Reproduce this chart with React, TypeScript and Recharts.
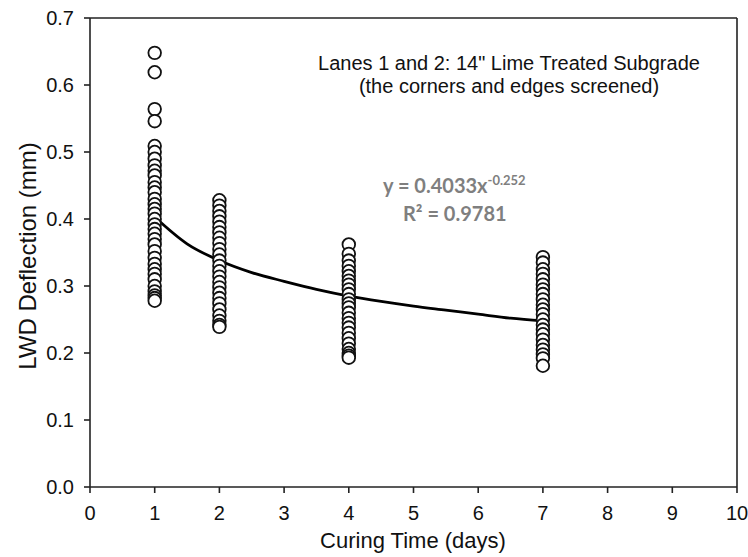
import React from 'react';
import { ComposedChart, Scatter, Line, XAxis, YAxis, ReferenceLine } from 'recharts';

// LWD deflection readings (mm) by curing time (days)
const day1 = [
  0.648, 0.619, 0.564, 0.546, 0.509, 0.500, 0.490, 0.480, 0.472, 0.465,
  0.455, 0.447, 0.440, 0.430, 0.422, 0.415, 0.408, 0.400, 0.392, 0.385,
  0.378, 0.370, 0.362, 0.352, 0.342, 0.333, 0.325, 0.318, 0.310, 0.300,
  0.292, 0.286, 0.282, 0.278,
];
const day2 = [
  0.428, 0.420, 0.412, 0.404, 0.396, 0.388, 0.380, 0.372, 0.364, 0.355,
  0.347, 0.338, 0.330, 0.322, 0.314, 0.306, 0.298, 0.290, 0.282, 0.274,
  0.265, 0.256, 0.248, 0.242, 0.239,
];
const day4 = [
  0.362, 0.348, 0.338, 0.330, 0.322, 0.315, 0.308, 0.302, 0.295, 0.288,
  0.280, 0.274, 0.268, 0.260, 0.252, 0.245, 0.238, 0.230, 0.222, 0.214,
  0.206, 0.200, 0.196, 0.193,
];
const day7 = [
  0.343, 0.335, 0.325, 0.318, 0.310, 0.302, 0.295, 0.288, 0.280, 0.272,
  0.265, 0.258, 0.250, 0.242, 0.235, 0.228, 0.220, 0.212, 0.205, 0.198,
  0.192, 0.181,
];

// power trend line
const trendX = [1, 1.5, 2, 2.5, 3, 3.5, 4, 4.5, 5, 5.5, 6, 6.5, 7];
const trendY = [0.403, 0.363, 0.338, 0.320, 0.307, 0.295, 0.285, 0.277, 0.270, 0.264, 0.258, 0.252, 0.248];

const xTicks = [0, 1, 2, 3, 4, 5, 6, 7, 8, 9, 10];
const yTicks = [0, 0.1, 0.2, 0.3, 0.4, 0.5, 0.6, 0.7];

const points = [
  ...day1.map((y) => ({ x: 1, y })),
  ...day2.map((y) => ({ x: 2, y })),
  ...day4.map((y) => ({ x: 4, y })),
  ...day7.map((y) => ({ x: 7, y })),
];
const trend = trendX.map((x, i) => ({ x, y: trendY[i] }));

const font = '"Liberation Sans", Arial, sans-serif';
const eqFont = 'Lato, "Open Sans", sans-serif';
const tickStyle = { fontSize: 20, fill: '#111', fontFamily: font };

const OpenCircle = (props: any) => {
  const { cx, cy } = props;
  if (cx == null || cy == null) return null;
  return <circle cx={cx} cy={cy} r={6.3} fill="#fff" stroke="#111" strokeWidth={1.8} />;
};

export default function App() {
  return (
    <div style={{ position: 'absolute', left: 0, top: 0, width: 748, height: 557, background: '#fff' }}>
      <ComposedChart width={748} height={557} margin={{ top: 18, right: 11, bottom: 26, left: 0 }}>
        <XAxis
          type="number"
          dataKey="x"
          domain={[0, 10]}
          ticks={xTicks}
          tick={tickStyle}
          tickSize={6}
          tickMargin={13}
          height={44}
          stroke="#222"
          strokeWidth={1.6}
          allowDataOverflow
        />
        <YAxis
          type="number"
          dataKey="y"
          domain={[0, 0.7]}
          ticks={yTicks}
          tickFormatter={(v: number) => v.toFixed(1)}
          tick={tickStyle}
          tickSize={6}
          tickMargin={10}
          width={90}
          stroke="#222"
          strokeWidth={1.6}
          allowDataOverflow
        />
        <ReferenceLine y={0.7} stroke="#222" strokeWidth={1.6} />
        <ReferenceLine x={10} stroke="#222" strokeWidth={1.6} />
        <Scatter data={points} dataKey="y" shape={<OpenCircle />} isAnimationActive={false} />
        <Line
          data={trend}
          dataKey="y"
          type="monotone"
          stroke="#000"
          strokeWidth={2.8}
          dot={false}
          activeDot={false}
          isAnimationActive={false}
        />
      </ComposedChart>
      <svg width={748} height={557} style={{ position: 'absolute', left: 0, top: 0, pointerEvents: 'none' }}>
        <text x={413} y={548} textAnchor="middle" fontSize={22} fontFamily={font} fill="#111">
          Curing Time (days)
        </text>
        <text
          x={36}
          y={256}
          textAnchor="middle"
          fontSize={24}
          fontFamily={font}
          fill="#111"
          transform="rotate(-90 36 256)"
        >
          LWD Deflection (mm)
        </text>
        <text x={509} y={70} textAnchor="middle" fontSize={20} fontFamily={font} fill="#111">
          Lanes 1 and 2: 14" Lime Treated Subgrade
        </text>
        <text x={509} y={93} textAnchor="middle" fontSize={20} fontFamily={font} fill="#111">
          (the corners and edges screened)
        </text>
        <text x={383} y={193} fontSize={20} fontWeight="bold" fontFamily={eqFont} fill="#7f7f7f">
          y = 0.4033x<tspan dy={-8} fontSize={13}>-0.252</tspan>
        </text>
        <text x={403} y={221} fontSize={20} fontWeight="bold" fontFamily={eqFont} fill="#7f7f7f">
          R² = 0.9781
        </text>
      </svg>
    </div>
  );
}
